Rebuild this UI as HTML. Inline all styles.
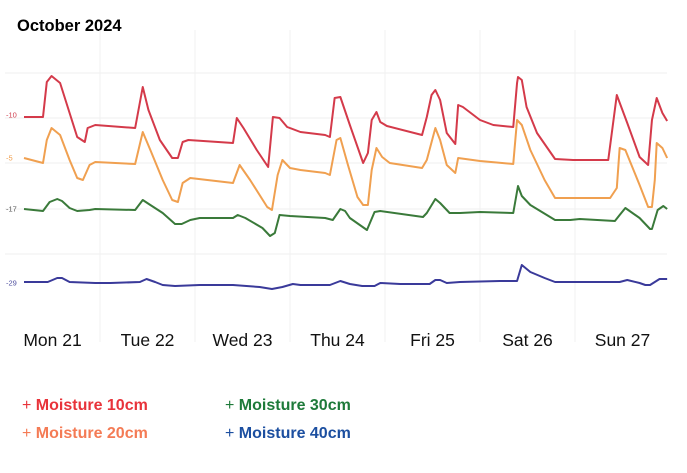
<!DOCTYPE html>
<html><head><meta charset="utf-8"><style>
body{margin:0;background:#fff;width:687px;height:473px;overflow:hidden;font-family:"Liberation Sans",sans-serif}
svg{position:absolute;left:0;top:0}
.leg{position:absolute;font-size:16px;font-weight:bold;white-space:nowrap}
.leg span{font-weight:normal}
</style></head><body>
<svg id="c" width="687" height="473">
<text x="17" y="31" font-size="16.5" font-weight="bold" fill="#000">October 2024</text>
</svg>
<div class="leg" style="left:22px;top:397px;color:#e8333a"><span>+</span> Moisture 10cm</div>
<div class="leg" style="left:22px;top:425px;color:#f47b55"><span>+</span> Moisture 20cm</div>
<div class="leg" style="left:225px;top:397px;color:#1e7a3a"><span>+</span> Moisture 30cm</div>
<div class="leg" style="left:225px;top:425px;color:#1c4fa0"><span>+</span> Moisture 40cm</div>
<script>
const dayLabels=["Mon 21","Tue 22","Wed 23","Thu 24","Fri 25","Sat 26","Sun 27"];
const yTickValues=[227,182,137,91,46];
const yTickLabels=["-10","-5","-17","-29"];
const yTickLabelValues=[185,142,91,17];
const yTickLabelColors=["#d04050","#f0a050","#555","#5050a0"];
const redT=[0.20,0.26,0.40,0.44,0.49,0.58,0.68,0.76,0.84,0.87,0.95,1.37,1.45,1.51,1.63,1.76,1.82,1.87,1.93,2.40,2.44,2.51,2.65,2.77,2.82,2.89,2.97,3.11,3.37,3.42,3.47,3.53,3.63,3.77,3.82,3.86,3.91,3.95,4.02,4.39,4.44,4.49,4.53,4.58,4.65,4.74,4.77,4.82,5.00,5.14,5.35,5.39,5.40,5.44,5.49,5.60,5.79,5.98,6.35,6.44,6.55,6.68,6.77,6.81,6.86,6.92,6.97];
const redV=[183,183,183,218,224,217,187,163,158,172,175,172,213,190,160,142,142,158,160,157,182,172,150,133,183,182,173,168,165,163,202,203,175,137,147,180,188,178,174,165,183,205,210,200,167,156,195,193,180,175,173,217,223,220,193,167,141,140,140,205,177,143,135,180,202,187,179];
const orangeT=[0.20,0.40,0.44,0.49,0.58,0.68,0.76,0.82,0.89,0.95,1.37,1.45,1.53,1.66,1.76,1.82,1.87,1.95,2.40,2.47,2.58,2.76,2.81,2.87,2.92,3.00,3.11,3.37,3.42,3.49,3.53,3.61,3.71,3.77,3.82,3.86,3.91,3.97,4.05,4.39,4.44,4.53,4.58,4.65,4.74,4.77,5.00,5.35,5.39,5.44,5.53,5.68,5.79,5.98,6.37,6.44,6.47,6.53,6.68,6.77,6.81,6.84,6.86,6.92,6.97];
const orangeV=[142,137,160,172,165,140,122,120,135,138,136,168,150,120,100,98,117,122,117,135,120,93,90,125,140,132,130,127,125,160,162,135,103,95,95,130,152,143,137,132,140,172,160,135,127,142,139,136,180,175,150,120,102,102,102,112,152,150,115,93,93,120,157,152,142];
const greenT=[0.20,0.40,0.47,0.55,0.60,0.68,0.76,0.89,0.95,1.37,1.45,1.53,1.66,1.79,1.86,1.95,2.05,2.40,2.45,2.53,2.71,2.79,2.84,2.89,3.00,3.37,3.45,3.53,3.58,3.63,3.72,3.81,3.89,3.95,4.40,4.44,4.53,4.58,4.68,4.79,5.00,5.35,5.40,5.44,5.53,5.79,5.95,6.05,6.42,6.47,6.53,6.68,6.79,6.81,6.87,6.93,6.97];
const greenV=[91,89,98,101,99,92,89,90,91,90,100,95,87,76,76,80,82,82,85,82,72,64,67,85,84,82,80,91,89,82,76,70,88,89,83,87,101,97,87,87,88,87,114,104,95,80,80,81,79,85,92,82,71,71,90,94,91];
const blueT=[0.20,0.45,0.55,0.60,0.68,0.95,1.11,1.42,1.49,1.58,1.66,1.79,2.05,2.40,2.68,2.81,2.92,3.03,3.11,3.42,3.53,3.63,3.76,3.89,3.95,4.16,4.47,4.53,4.58,4.65,4.79,5.21,5.39,5.44,5.53,5.68,5.79,6.05,6.47,6.55,6.68,6.74,6.79,6.89,6.97];
const blueV=[18,18,22,22,18,17,17,18,21,18,15,14,15,15,13,11,13,16,15,15,19,16,14,14,17,16,16,20,20,17,18,19,19,35,28,22,18,18,18,20,17,15,15,21,21];
const NS="http://www.w3.org/2000/svg";
const svg=document.getElementById('c');
const x=t=>5+t*95;
const y=v=>300-v;
function mk(tag,attrs){const e=document.createElementNS(NS,tag);for(const k in attrs)e.setAttribute(k,attrs[k]);svg.appendChild(e);return e;}
yTickValues.forEach(v=>{const l=mk('line',{x1:5,x2:667,y1:y(v),y2:y(v),stroke:'#efefef','stroke-width':1});

});
for(let d=1;d<7;d++){const l=mk('line',{x1:x(d),x2:x(d),y1:30,y2:342,stroke:'#f0f0f0','stroke-width':1});

}
yTickLabels.forEach((s,i)=>{const t=mk('text',{x:6,y:y(yTickLabelValues[i])+2.5,'font-size':7.5,fill:yTickLabelColors[i]});t.textContent=s;

});
dayLabels.forEach((s,i)=>{const t=mk('text',{x:x(i+0.5),y:346,'font-size':17.5,'text-anchor':'middle',fill:'#111'});t.textContent=s;

});
function line(T,V,col,name){const p=mk('polyline',{points:T.map((t,i)=>x(t)+','+y(V[i])).join(' '),fill:'none',stroke:col,'stroke-width':2,'stroke-linejoin':'round'});

}
line(redT,redV,'#d43a4a','series-moisture-10cm');
line(orangeT,orangeV,'#f0a050','series-moisture-20cm');
line(greenT,greenV,'#3a7a3a','series-moisture-30cm');
line(blueT,blueV,'#3a3a9a','series-moisture-40cm');
</script>
</body></html>
